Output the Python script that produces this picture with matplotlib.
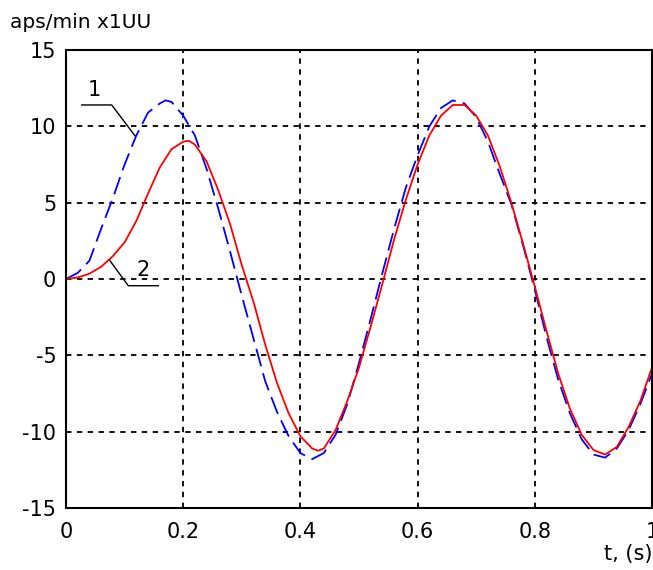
import matplotlib
matplotlib.use("Agg")
import matplotlib.pyplot as plt

t1 = [0, 0.02, 0.04, 0.06, 0.08, 0.10, 0.12, 0.14, 0.16, 0.17, 0.18, 0.20, 0.22, 0.24, 0.26, 0.28,
      0.30, 0.32, 0.34, 0.36, 0.38, 0.40, 0.42, 0.44, 0.46, 0.48, 0.50, 0.52, 0.54, 0.56, 0.58,
      0.60, 0.62, 0.64, 0.66, 0.68, 0.70, 0.72, 0.74, 0.76, 0.78, 0.80, 0.82, 0.84, 0.86, 0.88,
      0.90, 0.92, 0.94, 0.96, 0.98, 1.00]
v1 = [0, 0.4, 1.2, 3.3, 5.3, 7.5, 9.4, 10.9, 11.5, 11.7, 11.6, 10.7, 9.4, 7.2, 4.6, 1.8,
      -1.1, -3.9, -6.7, -8.7, -10.3, -11.4, -11.8, -11.4, -10.2, -8.2, -5.5, -2.6, 0.4, 3.3, 6.0,
      8.1, 10.0, 11.2, 11.7, 11.5, 10.6, 9.0, 6.9, 4.9, 2.2, -0.7, -3.8, -6.6, -8.8, -10.5,
      -11.5, -11.7, -11.1, -9.9, -8.2, -6.2]

t2 = [0, 0.02, 0.04, 0.06, 0.08, 0.10, 0.12, 0.14, 0.16, 0.18, 0.20, 0.21, 0.22, 0.24, 0.26, 0.28,
      0.30, 0.32, 0.34, 0.36, 0.38, 0.40, 0.42, 0.43, 0.44, 0.46, 0.48, 0.50, 0.52, 0.54, 0.56,
      0.58, 0.60, 0.62, 0.64, 0.66, 0.68, 0.70, 0.72, 0.74, 0.76, 0.78, 0.80, 0.82, 0.84, 0.86,
      0.88, 0.90, 0.92, 0.94, 0.96, 0.98, 1.00]
v2 = [0, 0.1, 0.35, 0.8, 1.5, 2.4, 3.8, 5.6, 7.3, 8.5, 9.0, 9.05, 8.8, 7.7, 5.8, 3.6,
      0.9, -1.5, -4.3, -6.8, -8.8, -10.3, -11.1, -11.25, -11.1, -9.9, -8.0, -5.8, -3.1, -0.3, 2.6,
      5.2, 7.5, 9.4, 10.7, 11.4, 11.4, 10.7, 9.4, 7.4, 5.0, 2.3, -0.5, -3.4, -6.2, -8.5,
      -10.2, -11.2, -11.5, -11.0, -9.7, -8.0, -5.8]

xticks = [0, 0.2, 0.4, 0.6, 0.8, 1]
xtick_labels = ["0", "0.2", "0.4", "0.6", "0.8", "1"]
yticks = [-15, -10, -5, 0, 5, 10, 15]

plt.rcParams['font.family'] = ['DejaVu Sans']
plt.rcParams['axes.unicode_minus'] = False

fig = plt.figure(figsize=(6.53, 5.70), dpi=100)
ax = fig.add_axes([66/653, 1-508/570, (652-66)/653, (508-50)/570])

ax.plot(t1, v1, color='#0000ff', lw=1.3, linestyle=(0, (10, 4)))
ax.plot(t2, v2, color='#ff0000', lw=1.3)

ax.set_xlim(0, 1)
ax.set_ylim(-15, 15)
ax.set_xticks(xticks)
ax.set_xticklabels(xtick_labels)
ax.set_yticks(yticks)
ax.tick_params(labelsize=15, length=0, colors='black')
ax.tick_params(axis='x', pad=10)
ax.tick_params(axis='y', pad=7)
ax.grid(True, color='black', linestyle=(0, (3, 3)), lw=1.3)
for s in ax.spines.values():
    s.set_linewidth(1.5)
    s.set_color('black')

# leader lines
ax.plot([0.0268, 0.078, 0.1177], [11.4, 11.4, 9.38], color='black', lw=1)
ax.text(0.048, 12.4, "1", fontsize=15, ha='center', va='center')
ax.plot([0.075, 0.1063, 0.1575], [1.2, -0.44, -0.44], color='black', lw=1)
ax.text(0.131, 0.6, "2", fontsize=15, ha='center', va='center')

fig.text(10/653, 1-23/570, "aps/min x1UU", fontsize=14.5, ha='left', va='center')
fig.text(653/653, 1-554/570, "t, (s)", fontsize=15, ha='right', va='center')

fig.savefig("out.png", dpi=100)
